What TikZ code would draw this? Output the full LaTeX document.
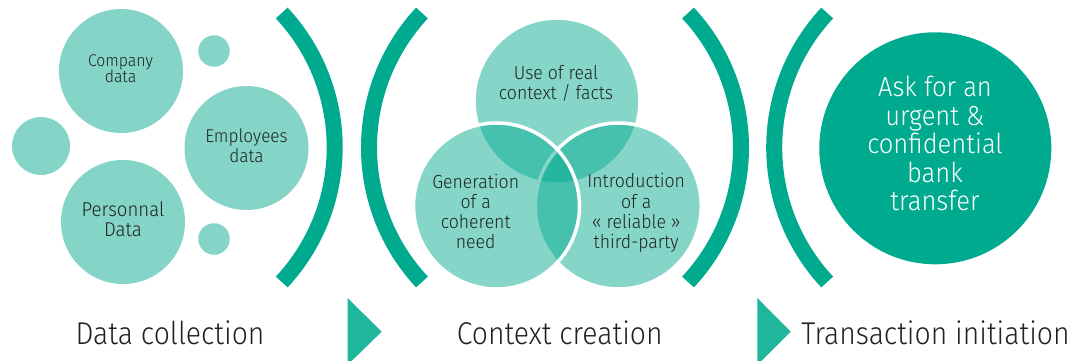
\documentclass[tikz,border=0pt]{standalone}
\usepackage{fontspec}
\setmainfont{Fira Sans}[UprightFont=* Light, FakeStretch=0.93]
\newfontfamily\labelfont{Fira Sans}[UprightFont=* Light, FakeStretch=0.9]
\definecolor{bnpDark}{RGB}{0,170,142}
\definecolor{bnpLight}{RGB}{132,213,199}
\definecolor{bnpTri}{RGB}{32,182,155}
\definecolor{inkText}{RGB}{30,34,34}
\begin{document}
\lineskiplimit=-100pt
\begin{tikzpicture}[x=1pt,y=1pt,
  bubble/.style={circle, fill=bnpLight, draw=none, inner sep=0pt, minimum size=#1},
  venn/.style={circle, fill=bnpDark, fill opacity=0.48, draw=white, draw opacity=1,
               line width=3.5pt, inner sep=0pt, minimum size=166pt},
  bigdisc/.style={circle, fill=bnpDark, draw=none, inner sep=0pt, minimum size=232pt},
  paren/.style={draw=bnpDark, line width=16pt},
  marker/.style={fill=bnpTri, draw=none},
  btext/.style={align=center, text=inkText, inner sep=0pt, font=\fontsize{#1}{#1}\selectfont},
  stage/.style={anchor=base, text=inkText, inner sep=0pt, font=\labelfont\fontsize{31.5}{34}\selectfont}]
\clip (0,0) rectangle (1074,361);

% ---- data collection bubbles
\node[bubble=124pt] (company)   at (121,290)   {};
\node[bubble=124pt] (employees) at (246.5,213) {};
\node[bubble=124pt] (personal)  at (123,139)   {};
\node[bubble=31.5pt] (dotTop)   at (214,310)   {};
\node[bubble=31.5pt] (dotBot)   at (214,122)   {};
\node[bubble=58pt]  (dotLeft)   at (41,215)    {};

\node[btext=17, font=\fontsize{17}{16}\selectfont] (tcompany) at (120.5,292.4) {Company\\data};
\node[btext=18.5, font=\fontsize{18.5}{20}\selectfont] (temployees) at (246.5,215.2) {Employees\\data};
\node[btext=20, font=\fontsize{20}{19.5}\selectfont] (tpersonal) at (123,142) {Personnal\\Data};

% ---- bracket arcs
\coordinate (c1) at (137.5,213.5);
\coordinate (c2) at (566.2,213.5);
\coordinate (c3) at (543.8,213.5);
\coordinate (c4) at (971.4,213.5);
\draw[paren] (c1) ++(-43:197.2) arc[start angle=-43, end angle=43, radius=197.2];
\draw[paren] (c2) ++(137:197.2) arc[start angle=137, end angle=223, radius=197.2];
\draw[paren] (c3) ++(-43:197.2) arc[start angle=-43, end angle=43, radius=197.2];
\draw[paren] (c4) ++(137:197.2) arc[start angle=137, end angle=223, radius=197.2];

% ---- context creation: overlapping circles
\node[venn] (facts) at (557,260)   {};
\node[venn] (third) at (618.3,155) {};
\node[venn] (need)  at (496.5,155) {};

\node[btext=19, font=\fontsize{19}{20}\selectfont] (tfacts) at (556,277.5) {Use of real\\context / facts};
\node[btext=19, font=\fontsize{19}{20.2}\selectfont] (tneed) at (475.7,149.5) {Generation\\of a\\coherent\\need};
\node[btext=19, font=\fontsize{19}{20.2}\selectfont] (tthird) at (636.2,148.1) {Introduction\\of a\\« reliable »\\third-party};

% ---- transaction initiation
\node[bigdisc] (ask) at (935.3,212.7) {};
\node[btext=27.5, font=\fontsize{27.5}{28.6}\selectfont, text=white] (task) at (935,217.3)
  {Ask for an\\urgent \&\\confidential\\bank\\transfer};

% ---- stage markers and captions
\fill[marker] (347.5,63) -- (381.7,29.3) -- (347.5,-4) -- cycle;
\fill[marker] (757.3,63) -- (790.7,29.3) -- (757.3,-4) -- cycle;
\node[stage] (s1) at (170,16)   {Data collection};
\node[stage] (s2) at (559.7,16) {Context creation};
\node[stage] (s3) at (935.5,16) {Transaction initiation};
\end{tikzpicture}
\end{document}
